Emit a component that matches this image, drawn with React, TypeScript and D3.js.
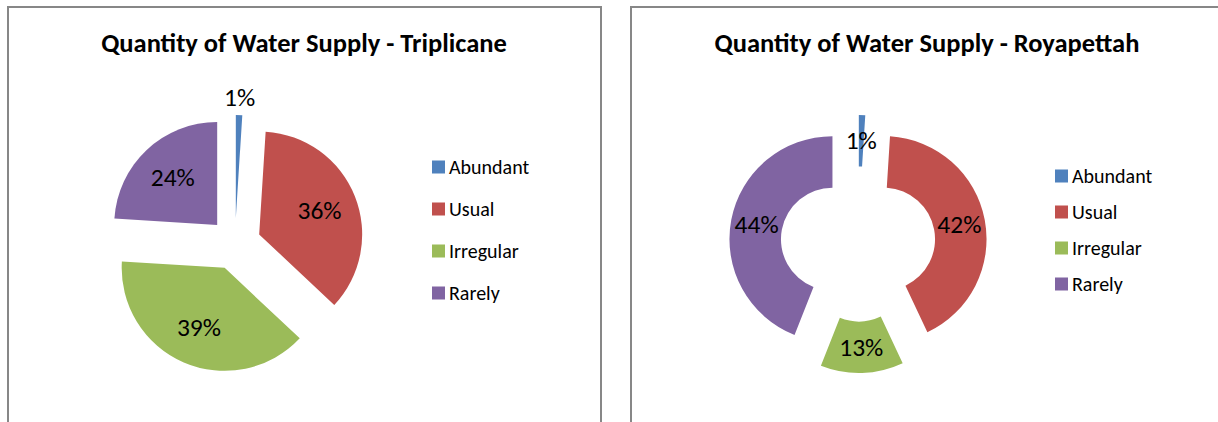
import React from "react";
import * as d3 from "d3";

// chart data
const categories = ["Abundant", "Usual", "Irregular", "Rarely"];
const triplicaneValues = [1, 36, 39, 24];
const royapettahValues = [1, 42, 13, 44];
const sliceColors = ["#4F81BD", "#C0504D", "#9BBB59", "#8064A2"];
const titles = ["Quantity of Water Supply - Triplicane", "Quantity of Water Supply - Royapettah"];

const FONT = "Carlito, Lato, 'Open Sans', sans-serif";

type PanelProps = {
    left: number;
    title: string;
    values: number[];
    holeRatio: number;
    legendTop: number;
    legendBottom: number;
};

const Panel = ({ left, title, values, holeRatio, legendTop, legendBottom }: PanelProps) => {
    const cx = left + 227;
    const cy = 244;
    const radius = 103;
    const explode = 26;
    const inner = radius * holeRatio;

    const pie = d3.pie<number>().sort(null).value((d) => d);
    const arcs = pie(values);
    const arc = d3.arc<d3.PieArcDatum<number>>().innerRadius(inner).outerRadius(radius);

    // legend rows
    const legendY = d3.scalePoint<string>().domain(categories).range([legendTop, legendBottom]);

    return (
        <g>
            <path
                d={`M${left},430 L${left},7 L${left + 593},7 L${left + 593},430`}
                fill="none"
                stroke="#878787"
                strokeWidth={2}
            />
            <text
                x={left + 296}
                y={52}
                textAnchor="middle"
                fontFamily={FONT}
                fontWeight="bold"
                fontSize={26.5}
                fill="#000"
            >
                {title}
            </text>
            {arcs.map((a, i) => {
                const mid = (a.startAngle + a.endAngle) / 2;
                const dx = explode * Math.sin(mid);
                const dy = -explode * Math.cos(mid);
                // small slices get their label outside on a plain pie
                let lr: number;
                if (inner > 0) lr = (inner + radius) / 2;
                else if (a.value < 5) lr = radius + 18;
                else lr = radius * 0.63;
                const lx = lr * Math.sin(mid);
                const ly = -lr * Math.cos(mid);
                return (
                    <g key={i} transform={`translate(${cx + dx},${cy + dy})`}>
                        <path d={arc(a) || ""} fill={sliceColors[i]} />
                        <text
                            x={lx}
                            y={ly}
                            textAnchor="middle"
                            dominantBaseline="central"
                            fontFamily={FONT}
                            fontSize={25.5}
                            fill="#000"
                        >
                            {`${a.value}%`}
                        </text>
                    </g>
                );
            })}
            {categories.map((c, i) => (
                <g key={c} transform={`translate(${left + 424},${legendY(c)})`}>
                    <rect x={0} y={-6.5} width={13} height={13} fill={sliceColors[i]} />
                    <text x={17} y={0} dominantBaseline="central" fontFamily={FONT} fontSize={20} fill="#000">
                        {c}
                    </text>
                </g>
            ))}
        </g>
    );
};

const App = () => {
    return (
        <svg
            width={1218}
            height={422}
            style={{ position: "absolute", left: 0, top: 0, background: "#fff" }}
        >
            <rect x={0} y={0} width={1218} height={422} fill="#fff" />
            <Panel left={8} title={titles[0]} values={triplicaneValues} holeRatio={0} legendTop={167} legendBottom={293} />
            <Panel left={631} title={titles[1]} values={royapettahValues} holeRatio={0.5} legendTop={176} legendBottom={284} />
        </svg>
    );
};

export default App;
